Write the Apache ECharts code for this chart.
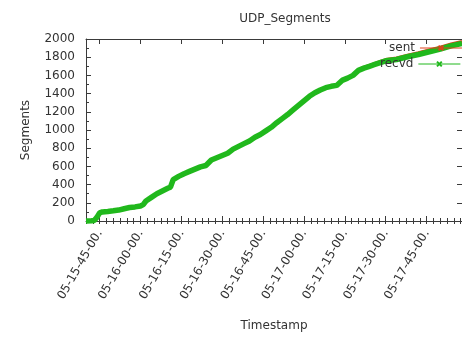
<!DOCTYPE html>
<html>
<head>
<meta charset="utf-8">
<script src="https://cdn.jsdelivr.net/npm/echarts@6/dist/echarts.min.js"></script>
<style>
  html, body { margin: 0; padding: 0; background: #fff; }
  #chart { width: 462px; height: 337px; }
</style>
</head>
<body>
<div id="chart"></div>
<script>
// Sample times (day 05, HH:MM) and cumulative UDP segment counts
const times = ['15:40','15:42','15:43','15:44','15:45','15:46','15:48','15:50','15:52','15:54',
  '15:56','15:58','16:00','16:01','16:02','16:04','16:06','16:08','16:10','16:11',
  '16:12','16:14','16:16','16:18','16:20','16:22','16:24','16:26','16:28','16:30',
  '16:32','16:34','16:36','16:38','16:40','16:42','16:44','16:46','16:48','16:50',
  '16:52','16:54','16:56','16:58','17:00','17:02','17:04','17:06','17:08','17:10',
  '17:12','17:14','17:16','17:18','17:20','17:22','17:24','17:26','17:28','17:30',
  '17:34','17:38','17:42','17:46','17:50','17:54','17:58'];
const sent = [0, 2, 6, 42, 91, 101, 106, 113, 121, 136,
  149, 156, 166, 182, 222, 262, 302, 332, 362, 374,
  457, 492, 522, 547, 572, 597, 612, 672, 697, 722,
  747, 792, 822, 852, 882, 922, 952, 992, 1032, 1082,
  1128, 1173, 1223, 1273, 1323, 1373, 1413, 1443, 1468, 1484,
  1494, 1550, 1576, 1607, 1663, 1690, 1711, 1732, 1753, 1774,
  1791, 1822, 1849, 1880, 1911, 1946, 1972];
const recvd = [0, 2, 5, 40, 90, 100, 105, 112, 120, 135,
  148, 155, 165, 180, 220, 260, 300, 330, 360, 372,
  455, 490, 520, 545, 570, 595, 610, 670, 695, 720,
  745, 790, 820, 850, 880, 920, 950, 990, 1030, 1080,
  1125, 1170, 1220, 1270, 1320, 1370, 1410, 1440, 1465, 1480,
  1490, 1545, 1570, 1600, 1655, 1680, 1700, 1720, 1740, 1760,
  1775, 1805, 1830, 1860, 1890, 1925, 1950];
// Tick labels every 15 minutes
const tickTimes = ['15:45','16:00','16:15','16:30','16:45','17:00','17:15','17:30','17:45'];

// minutes relative to 15:45
const toMin = s => { const [h, m] = s.split(':').map(Number); return (h - 15) * 60 + m - 45; };
const toLabel = v => {
  const t = 15 * 60 + 45 + v;
  const h = Math.floor(t / 60), m = t % 60;
  return '05-' + h + '-' + String(m).padStart(2, '0') + '-00.';
};
const xMin = -5, xMax = 133;
const majorTicks = tickTimes.map(toMin);

const font = 'DejaVu Sans';
const textColor = '#333';
const axisColor = '#3a3a3a';

const baseX = {
  type: 'value', min: xMin, max: xMax,
  splitLine: { show: false },
  axisLine: { show: false }
};

const chart = echarts.init(document.getElementById('chart'));
chart.setOption({
  animation: false,
  backgroundColor: '#fff',
  title: {
    text: 'UDP_Segments', left: 280, top: 8, textAlign: 'center',
    textStyle: { fontFamily: font, fontSize: 12, fontWeight: 'normal', color: textColor }
  },
  legend: [
    {
      data: ['sent'], left: 384, top: 37, align: 'right', itemWidth: 42, itemHeight: 6, itemGap: 6,
      textStyle: { fontFamily: font, fontSize: 12, color: textColor },
      lineStyle: { width: 1 }
    },
    {
      data: ['recvd'], left: 375, top: 53, align: 'right', itemWidth: 42, itemHeight: 6, itemGap: 6,
      textStyle: { fontFamily: font, fontSize: 12, color: textColor },
      lineStyle: { width: 1 }
    }
  ],
  grid: { left: 86, top: 39, right: -8, bottom: 106, containLabel: false },
  xAxis: [
    Object.assign({}, baseX, {
      position: 'bottom',
      name: 'Timestamp', nameLocation: 'middle', nameGap: 99,
      nameTextStyle: { fontFamily: font, fontSize: 12, color: textColor },
      axisLine: { show: true, onZero: false, lineStyle: { color: axisColor, width: 1 } },
      axisTick: { show: true, inside: true, length: 5, customValues: majorTicks, lineStyle: { color: axisColor } },
      axisLabel: {
        customValues: majorTicks, rotate: 60, margin: 10,
        fontFamily: font, fontSize: 12, color: textColor,
        formatter: v => toLabel(v)
      }
    }),
    Object.assign({}, baseX, {
      position: 'bottom', interval: 2.5,
      axisTick: { show: true, inside: true, length: 3, lineStyle: { color: axisColor } },
      axisLabel: { show: false }
    }),
    Object.assign({}, baseX, {
      position: 'top',
      axisLine: { show: true, onZero: false, lineStyle: { color: axisColor, width: 1 } },
      axisTick: { show: true, inside: true, length: 5, customValues: majorTicks, lineStyle: { color: axisColor } },
      axisLabel: { show: false }
    }),
    Object.assign({}, baseX, {
      position: 'top', interval: 2.5,
      axisTick: { show: true, inside: true, length: 3, lineStyle: { color: axisColor } },
      axisLabel: { show: false }
    })
  ],
  yAxis: [
    {
      type: 'value', min: 0, max: 2000, interval: 200, position: 'left',
      name: 'Segments', nameLocation: 'middle', nameGap: 54,
      nameTextStyle: { fontFamily: font, fontSize: 12, color: textColor },
      axisLine: { show: true, onZero: false, lineStyle: { color: axisColor, width: 1 } },
      axisTick: { show: true, inside: true, length: 5, lineStyle: { color: axisColor } },
      minorTick: { show: true, splitNumber: 2, length: 3, lineStyle: { color: axisColor } },
      axisLabel: { margin: 11, fontFamily: font, fontSize: 12, color: textColor, formatter: v => String(v) },
      splitLine: { show: false }
    },
    {
      type: 'value', min: 0, max: 2000, interval: 200, position: 'right',
      axisLine: { show: true, onZero: false, lineStyle: { color: axisColor, width: 1 } },
      axisTick: { show: true, inside: true, length: 5, lineStyle: { color: axisColor } },
      axisLabel: { show: false },
      splitLine: { show: false }
    }
  ],
  series: [
    {
      name: 'sent', type: 'line', xAxisIndex: 0, yAxisIndex: 0,
      data: times.map((t, i) => [toMin(t), sent[i]]),
      showSymbol: false, symbol: 'path://M0,0L10,10M10,0L0,10', symbolSize: 4,
      clip: false,
      lineStyle: { color: '#e0401c', width: 3 },
      itemStyle: { color: '#e0401c', borderColor: '#e0401c', borderWidth: 1 },
      z: 2
    },
    {
      name: 'recvd', type: 'line', xAxisIndex: 0, yAxisIndex: 0,
      data: times.map((t, i) => [toMin(t), recvd[i]]),
      showSymbol: false, symbol: 'path://M0,0L10,10M10,0L0,10', symbolSize: 4,
      clip: false,
      lineStyle: { color: '#20b81c', width: 5.5 },
      itemStyle: { color: '#20b81c', borderColor: '#20b81c', borderWidth: 1 },
      z: 3
    }
  ]
});
</script>
</body>
</html>
